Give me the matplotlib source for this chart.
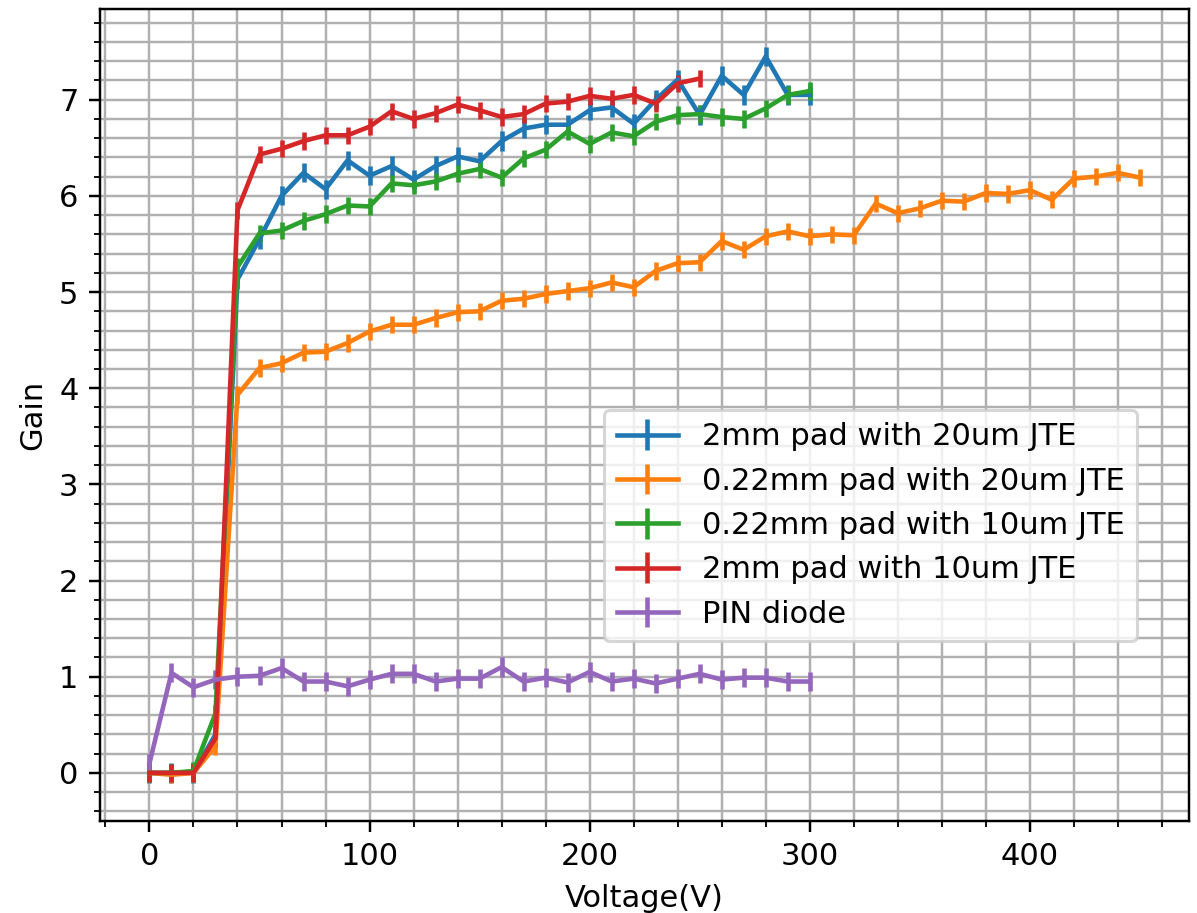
import numpy as np
import matplotlib.pyplot as plt

# bias voltages (V)
v_300 = list(range(0, 310, 10))
v_250 = list(range(0, 260, 10))
v_450 = list(range(0, 460, 10))

gain_2mm_20um = [0, 0, 0, 0.40, 5.13, 5.55, 6.00, 6.24, 6.07, 6.37, 6.21, 6.31, 6.17,
                 6.31, 6.41, 6.36, 6.57, 6.70, 6.74, 6.74, 6.89, 6.92, 6.75, 7.00,
                 7.21, 6.84, 7.25, 7.05, 7.45, 7.05, 7.05]
gain_022mm_20um = [0, -0.02, 0, 0.28, 3.93, 4.21, 4.26, 4.37, 4.38, 4.47, 4.59, 4.66,
                   4.66, 4.73, 4.79, 4.80, 4.91, 4.93, 4.98, 5.01, 5.04, 5.10, 5.05,
                   5.22, 5.30, 5.31, 5.53, 5.44, 5.58, 5.63, 5.58, 5.60, 5.59, 5.92,
                   5.82, 5.87, 5.95, 5.94, 6.03, 6.02, 6.06, 5.96, 6.18, 6.20, 6.24, 6.19]
gain_022mm_10um = [0, 0, 0.02, 0.62, 5.26, 5.61, 5.64, 5.74, 5.81, 5.90, 5.89, 6.13,
                   6.11, 6.15, 6.23, 6.28, 6.19, 6.39, 6.48, 6.67, 6.54, 6.66, 6.62,
                   6.77, 6.84, 6.85, 6.82, 6.80, 6.91, 7.05, 7.09]
gain_2mm_10um = [0, 0, 0, 0.36, 5.85, 6.43, 6.49, 6.57, 6.63, 6.63, 6.72, 6.88, 6.80,
                 6.86, 6.95, 6.89, 6.82, 6.85, 6.96, 6.98, 7.04, 7.01, 7.05, 6.96,
                 7.17, 7.22]
gain_pin = [0.10, 1.04, 0.89, 0.97, 1.00, 1.01, 1.09, 0.95, 0.95, 0.90, 0.97, 1.03,
            1.03, 0.95, 0.98, 0.98, 1.10, 0.95, 0.99, 0.94, 1.05, 0.95, 0.98, 0.93,
            0.98, 1.03, 0.97, 0.99, 0.99, 0.95, 0.95]

# gain uncertainties
err_2mm_20um = 0.1
err_022mm_20um = 0.09
err_022mm_10um = 0.09
err_2mm_10um = 0.09
err_pin = 0.1

fig, ax = plt.subplots(figsize=(1197 / 220, 913 / 220), dpi=220)
fig.subplots_adjust(left=0.0835, right=0.9936, top=0.9898, bottom=0.1008)

ax.errorbar(v_300, gain_2mm_20um, yerr=err_2mm_20um, label='2mm pad with 20um JTE')
ax.errorbar(v_450, gain_022mm_20um, yerr=err_022mm_20um, label='0.22mm pad with 20um JTE')
ax.errorbar(v_300, gain_022mm_10um, yerr=err_022mm_10um, label='0.22mm pad with 10um JTE')
ax.errorbar(v_250, gain_2mm_10um, yerr=err_2mm_10um, label='2mm pad with 10um JTE')
ax.errorbar(v_300, gain_pin, yerr=err_pin, label='PIN diode')

ax.set_ylim(-0.5, 7.94)
ax.minorticks_on()
ax.grid(True, which='both')
ax.set_xlabel('Voltage(V)')
ax.set_ylabel('Gain')
ax.legend(loc='lower left', bbox_to_anchor=(0.463, 0.222), borderaxespad=0)

fig.savefig('out.png', dpi=220)
